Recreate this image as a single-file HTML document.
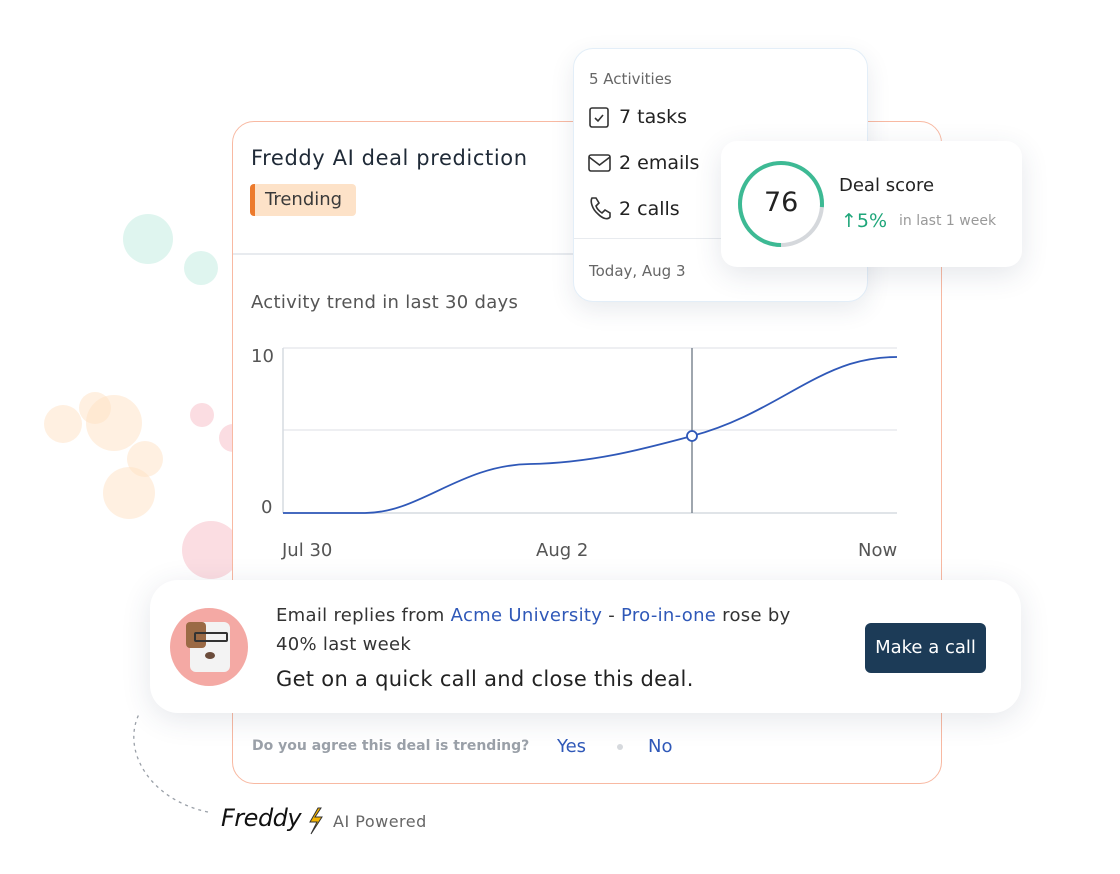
<!DOCTYPE html>
<html><head><meta charset="utf-8"><style>
*{margin:0;padding:0;box-sizing:border-box}
body{width:1120px;height:874px;background:#fff;position:relative;overflow:hidden;font-family:"DejaVu Sans","Liberation Sans",sans-serif;color:#1f2a37}
.b{position:absolute;border-radius:50%}
.card{position:absolute;background:#fff}
.t{position:absolute;white-space:nowrap}
</style></head><body>
<div class="b" style="left:123px;top:214px;width:50px;height:50px;background:#dff5ef"></div>
<div class="b" style="left:184px;top:251px;width:34px;height:34px;background:#dff5ef"></div>
<div class="b" style="left:44px;top:405px;width:38px;height:38px;background:rgba(255,225,195,.5)"></div>
<div class="b" style="left:79px;top:392px;width:32px;height:32px;background:rgba(255,225,195,.5)"></div>
<div class="b" style="left:86px;top:395px;width:56px;height:56px;background:rgba(255,225,195,.5)"></div>
<div class="b" style="left:127px;top:441px;width:36px;height:36px;background:rgba(255,225,195,.5)"></div>
<div class="b" style="left:103px;top:467px;width:52px;height:52px;background:rgba(255,225,195,.5)"></div>
<div class="b" style="left:190px;top:403px;width:24px;height:24px;background:#fbdde2"></div>
<div class="b" style="left:219px;top:424px;width:28px;height:28px;background:#fbdde2"></div>
<div class="b" style="left:182px;top:521px;width:58px;height:58px;background:#fbdde2"></div>

<div class="card" style="left:232px;top:121px;width:710px;height:663px;border:1.5px solid #f8b9a2;border-radius:22px"></div>
<div class="t" style="left:251px;top:146px;font-size:21px;letter-spacing:0.6px;color:#1f2a37">Freddy AI deal prediction</div>
<div style="position:absolute;left:250px;top:184px;width:106px;height:32px;background:#fde2c8;border-radius:4px;border-left:5px solid #ec7a2c"></div>
<div class="t" style="left:265px;top:189px;font-size:18px;color:#3a3a3a">Trending</div>
<div style="position:absolute;left:233px;top:253px;width:708px;height:1.5px;background:#e8ebef"></div>
<div class="t" style="left:251px;top:292px;font-size:18px;letter-spacing:0.3px;color:#555">Activity trend in last 30 days</div>

<svg style="position:absolute;left:0;top:0" width="1120" height="874">
<line x1="283" y1="348" x2="897" y2="348" stroke="#e8eaee" stroke-width="1.5"/>
<line x1="283" y1="430" x2="897" y2="430" stroke="#e8eaee" stroke-width="1.5"/>
<line x1="283" y1="513" x2="897" y2="513" stroke="#d6dbe1" stroke-width="1.5"/>
<line x1="283" y1="348" x2="283" y2="513" stroke="#d6dbe1" stroke-width="1.5"/>
<line x1="692" y1="348" x2="692" y2="513" stroke="#6b7683" stroke-width="1.3"/>
<path d="M283 513 L365 513 C420 513 460 465 530 464 C590 463 640 450 692 436 C760 418 800 380 850 364 C870 358 885 357 897 357" fill="none" stroke="#2f58b8" stroke-width="1.8"/>
<circle cx="692" cy="436" r="5" fill="#fff" stroke="#2f58b8" stroke-width="1.8"/>
<path d="M208 812 C150 800 120 750 140 712" fill="none" stroke="#9aa0a8" stroke-width="1.3" stroke-dasharray="3 4"/>
<path d="M318 808 L310 822 L317 822 L311 834 L322 817 L315 817 L321 808 Z" fill="#f5b400" stroke="#333" stroke-width="1"/>
</svg>
<div class="t" style="left:251px;top:346px;font-size:18px;color:#555">10</div>
<div class="t" style="left:261px;top:497px;font-size:18px;color:#555">0</div>
<div class="t" style="left:282px;top:540px;font-size:18px;color:#555">Jul 30</div>
<div class="t" style="left:536px;top:540px;font-size:18px;color:#555">Aug 2</div>
<div class="t" style="left:858px;top:540px;font-size:18px;color:#555">Now</div>

<div class="card" style="left:573px;top:48px;width:295px;height:254px;border-radius:20px;border:1px solid #e3eef8;box-shadow:0 8px 24px rgba(40,60,90,.1)"></div>
<div class="t" style="left:589px;top:70px;font-size:15px;color:#666">5 Activities</div>
<svg style="position:absolute;left:588px;top:105px" width="24" height="122">
<rect x="2" y="3" width="18" height="19" rx="2" fill="none" stroke="#333" stroke-width="1.6"/><path d="M7 13 L10 16 L15 10" fill="none" stroke="#333" stroke-width="1.6"/>
<rect x="1" y="50" width="21" height="16" rx="2" fill="none" stroke="#333" stroke-width="1.6"/><path d="M1 52 L11.5 60 L22 52" fill="none" stroke="#333" stroke-width="1.6"/>
<path d="M4 93 C2 96 4 104 10 109 C15 114 20 115 22 112 L22 108 L17 105 L14 108 C11 106 9 104 8 101 L11 98 L8 93 Z" fill="none" stroke="#333" stroke-width="1.6"/>
</svg>
<div class="t" style="left:619px;top:106px;font-size:19px;color:#222">7 tasks</div>
<div class="t" style="left:619px;top:152px;font-size:19px;color:#222">2 emails</div>
<div class="t" style="left:619px;top:198px;font-size:19px;color:#222">2 calls</div>
<div style="position:absolute;left:574px;top:238px;width:293px;height:1px;background:#e8ebef"></div>
<div class="t" style="left:589px;top:262px;font-size:15px;color:#666">Today, Aug 3</div>

<div class="card" style="left:721px;top:141px;width:301px;height:126px;border-radius:16px;box-shadow:0 8px 28px rgba(40,60,90,.12)"></div>
<svg style="position:absolute;left:737px;top:160px" width="90" height="90">
<circle cx="44" cy="44" r="41" fill="none" stroke="#d5d8dc" stroke-width="4"/>
<circle cx="44" cy="44" r="41" fill="none" stroke="#3dba94" stroke-width="4" stroke-dasharray="196 258" transform="rotate(90 44 44)"/>
</svg>
<div class="t" style="left:764px;top:187px;font-size:27px;color:#222">76</div>
<div class="t" style="left:839px;top:175px;font-size:18px;color:#222">Deal score</div>
<div class="t" style="left:841px;top:210px;font-size:19px;color:#1fa67a">&#8593;5%</div>
<div class="t" style="left:899px;top:213px;font-size:14px;color:#999">in last 1 week</div>

<div class="card" style="left:150px;top:580px;width:871px;height:133px;border-radius:28px;box-shadow:0 6px 30px rgba(40,60,90,.12)"></div>
<div class="b" style="left:170px;top:608px;width:78px;height:78px;background:#f4a9a4"></div>
<div style="position:absolute;left:190px;top:622px;width:40px;height:50px;background:#f3f3f3;border-radius:6px"></div>
<div style="position:absolute;left:186px;top:622px;width:20px;height:26px;background:#9b6a45;border-radius:4px"></div>
<div style="position:absolute;left:194px;top:632px;width:34px;height:10px;border:2px solid #333;border-radius:2px"></div>
<div style="position:absolute;left:205px;top:652px;width:10px;height:7px;background:#6b4c3b;border-radius:50%"></div>
<div class="t" style="left:276px;top:605px;font-size:18px;letter-spacing:0.3px;color:#333">Email replies from <span style="color:#2f58b8">Acme University</span> - <span style="color:#2f58b8">Pro-in-one</span> rose by</div>
<div class="t" style="left:276px;top:634px;font-size:18px;letter-spacing:0.3px;color:#333">40% last week</div>
<div class="t" style="left:276px;top:667px;font-size:21px;letter-spacing:0.3px;color:#222">Get on a quick call and close this deal.</div>
<div style="position:absolute;left:865px;top:623px;width:121px;height:50px;background:#1c3b57;border-radius:6px;color:#fff;font-size:18px;text-align:center;line-height:50px">Make a call</div>

<div class="t" style="left:252px;top:738px;font-size:14px;color:#9aa0a8;font-weight:bold">Do you agree this deal is trending?</div>
<div class="t" style="left:557px;top:736px;font-size:18px;color:#2f58b8">Yes</div>
<div class="b" style="left:617px;top:744px;width:6px;height:6px;background:#d6d9dd"></div>
<div class="t" style="left:648px;top:736px;font-size:18px;color:#2f58b8">No</div>
<div class="t" style="left:221px;top:804px;font-size:24px;font-style:italic;color:#111;letter-spacing:-0.5px">Freddy</div>
<div class="t" style="left:333px;top:812px;font-size:16px;color:#666;letter-spacing:0.5px">AI Powered</div>
</body></html>
